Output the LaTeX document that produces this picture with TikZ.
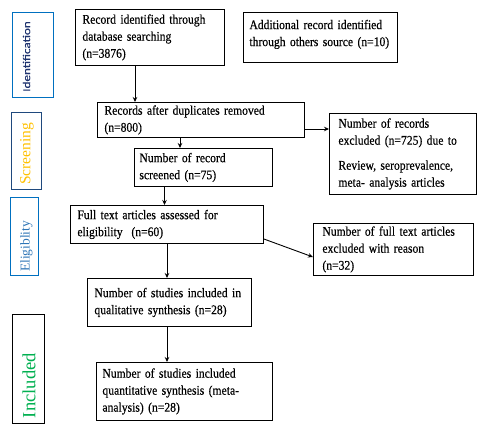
\documentclass[tikz,border=0pt]{standalone}
\usepackage{fontspec}
\usetikzlibrary{arrows.meta}
\setmainfont{Liberation Serif}[FakeStretch=0.88,WordSpace=0.85,FakeBold=0.4]
\newfontfamily\labelserif{Liberation Serif}
\newfontfamily\labelsans{Carlito}[FakeStretch=1.25,FakeBold=0.2]
\definecolor{idblue}{RGB}{30,50,110}
\definecolor{boxblue}{RGB}{0,112,192}
\definecolor{boxnavy}{RGB}{31,73,125}
\definecolor{screenorange}{RGB}{255,192,0}
\definecolor{eligblue}{RGB}{46,117,182}
\definecolor{inclgreen}{RGB}{0,176,80}
\begin{document}
\begin{tikzpicture}[x=1pt,y=-1pt,>={Stealth[length=5pt,width=4.5pt]}]
  \tikzstyle{record}=[draw,line width=0.9pt,align=left,anchor=north west,inner xsep=7pt,inner ysep=0pt,font=\fontsize{13.2}{17}\selectfont]
  \tikzstyle{phase}=[draw,line width=0.8pt,anchor=north west,inner sep=0pt]
  \tikzstyle{phasename}=[rotate=90,inner sep=0pt]
  \tikzstyle{flow}=[->,draw,line width=0.9pt]
  \useasboundingbox (0,0) rectangle (483,433);
  % phases on the left
  \node [phase,draw=boxblue,minimum width=41pt,minimum height=85pt] (p1) at (12,12) {};
  \node [phase,draw=boxnavy,minimum width=30pt,minimum height=77pt] (p2) at (11,112) {};
  \node [phase,draw=boxblue,minimum width=28pt,minimum height=78pt] (p3) at (10,197) {};
  \node [phase,draw=black,minimum width=32pt,minimum height=109pt] (p4) at (12,314) {};
  \node [phasename,text=idblue,font=\labelsans\fontsize{10.5}{12}\selectfont] (p1name) at (26.5,56.5) {Identification};
  \node [phasename,text=screenorange,font=\labelserif\fontsize{15.5}{18}\selectfont] (p2name) at (27,154) {Screening};
  \node [phasename,text=eligblue,font=\labelserif\fontsize{13.5}{16}\selectfont] (p3name) at (26.5,246.5) {Eligiblity};
  \node [phasename,text=inclgreen,font=\labelserif\fontsize{18.6}{22}\selectfont] (p4name) at (29,385.5) {Included};
  % records
  \node [record,text width=135pt,minimum height=56pt] (db) at (75,9) {Record identified through\\database searching\\(n=3876)};
  \node [record,text width=142pt,inner xsep=6pt,minimum height=50pt] (other) at (243,12) {Additional record identified\\through others source (n=10)\\[-8pt]\mbox{}};
  \node [record,text width=193pt,minimum height=35pt] (dup) at (97,102) {Records after duplicates removed\\(n=800)};
  \node [record,text width=128pt,inner xsep=5pt,minimum height=38pt] (screen) at (134,148) {Number of record\\screened (n=75)};
  \node [record,text width=129pt,inner xsep=9pt,minimum height=81pt] (excl) at (329,113) {Number of records\\excluded (n=725) due to\\[8pt]Review, seroprevalence,\\meta- analysis articles};
  \node [record,text width=179pt,minimum height=38pt] (full) at (70,205) {Full text articles assessed for\\eligibility~ (n=60)};
  \node [record,text width=142pt,inner xsep=9pt,minimum height=52pt] (fullex) at (313,223) {Number of full text articles\\excluded with reason\\(n=32)};
  \node [record,text width=150pt,inner xsep=7pt,minimum height=48pt] (qual) at (87,278) {Number of studies included in\\qualitative synthesis (n=28)};
  \node [record,text width=164pt,inner xsep=6pt,minimum height=58pt] (quant) at (96,362) {Number of studies included\\quantitative synthesis (meta-\\analysis) (n=28)};
  % arrows
  \draw [flow] (135,0 |- db.south) -- (135,0 |- dup.north);
  \draw [flow] (dup.east |- 0,129) -- (excl.west |- 0,129);
  \draw [flow] (180,0 |- dup.south) -- (180,0 |- screen.north);
  \draw [flow] (164.5,0 |- screen.south) -- (164.5,0 |- full.north);
  \draw [flow] (full.east |- 0,239) -- (fullex.west |- 0,257);
  \draw [flow] (167,0 |- full.south) -- (167,0 |- qual.north);
  \draw [flow] (167,0 |- qual.south) -- (167,0 |- quant.north);
\end{tikzpicture}
\end{document}
